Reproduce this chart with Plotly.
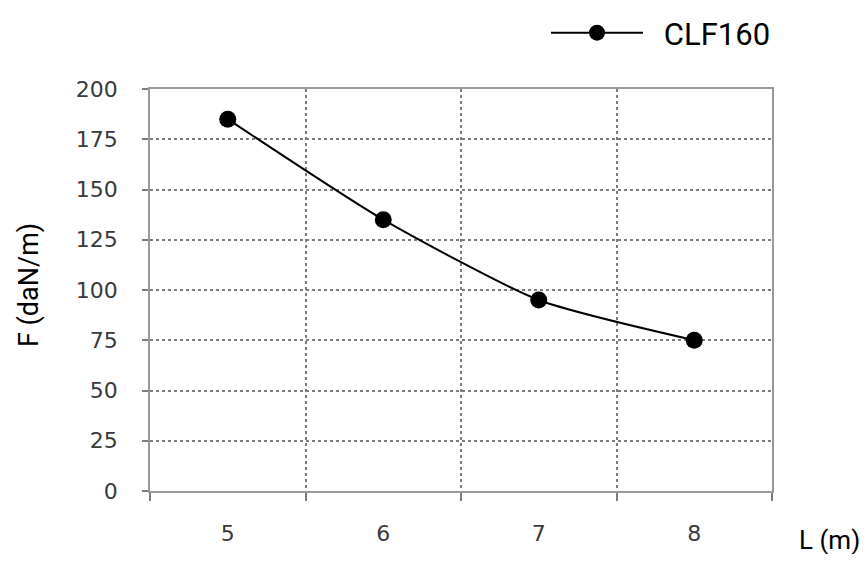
import plotly.graph_objects as go

categories = ["5", "6", "7", "8"]
values = [185, 135, 95, 75]
series_name = "CLF160"
y_ticks = [0, 25, 50, 75, 100, 125, 150, 175, 200]

x_num = [float(c) for c in categories]
boundaries = [x_num[0] - 0.5] + [v + 0.5 for v in x_num]

# page body has an 8px margin; compensate so plot lands where the reference has it
OFF = 8
W, H = 867 - 2 * OFF, 562 - 2 * OFF
L, T, R, B = 150 - OFF, 89 - OFF, 772 - OFF, 491 - OFF
PW, PH = R - L, B - T

grid_color = "#7d7d7d"
label_font = dict(size=26, color="black", family="Roboto, Liberation Sans, sans-serif")
tick_font = dict(size=22, color="#3a3a3a", family="DejaVu Sans, Verdana, sans-serif")

fig = go.Figure()
fig.add_trace(go.Scatter(
    x=x_num, y=values, name="\u2002" + series_name,
    mode="lines+markers",
    line=dict(color="black", width=2, shape="spline", smoothing=0.6),
    marker=dict(color="black", size=17),
))

fig.update_layout(
    width=W, height=H,
    margin=dict(l=L, r=W - R, t=T, b=H - B, autoexpand=False),
    paper_bgcolor="white", plot_bgcolor="white",
    showlegend=True,
    legend=dict(
        xref="container", yref="container",
        x=(776 - OFF) / W, xanchor="right", y=1 - (33 - OFF) / H, yanchor="middle",
        orientation="h", font=dict(size=31, color="black", family="Roboto, Liberation Sans, sans-serif"),
        itemwidth=92, bgcolor="rgba(0,0,0,0)",
    ),
    xaxis=dict(
        range=[boundaries[0], boundaries[-1]],
        tickvals=x_num, ticktext=categories,
        showgrid=False, ticks="", zeroline=False,
        showline=True, mirror=True, linecolor="#999", linewidth=1.5,
        tickfont=tick_font, ticklabelstandoff=22,
        automargin=False,
        minor=dict(tickvals=boundaries, showgrid=True, gridcolor=grid_color,
                   griddash="dot", gridwidth=1.5, ticks="outside", ticklen=8,
                   tickcolor=grid_color, tickwidth=1.5),
    ),
    yaxis=dict(
        range=[0, 200], tickvals=y_ticks,
        showgrid=True, gridcolor=grid_color, griddash="dot", gridwidth=1.5,
        ticks="outside", ticklen=6, tickcolor=grid_color, tickwidth=1.5,
        showline=True, mirror=True, linecolor="#999", linewidth=1.5,
        zeroline=False,
        tickfont=tick_font, ticklabelstandoff=20,
        automargin=False,
    ),
)

fig.add_annotation(
    text="F (daN/m)", xref="paper", yref="paper",
    x=(29 - OFF - L) / PW, y=0.5 + 5 / PH, textangle=-90,
    xanchor="center", yanchor="middle", showarrow=False,
    font=dict(size=27, color="black", family="Roboto, Liberation Sans, sans-serif"),
)
fig.add_annotation(
    text="L (m)", xref="paper", yref="paper",
    x=(797 - OFF - L) / PW, y=-(540 - 491) / PH,
    xanchor="left", yanchor="middle", showarrow=False, font=label_font,
)

fig.write_html("out.html")
